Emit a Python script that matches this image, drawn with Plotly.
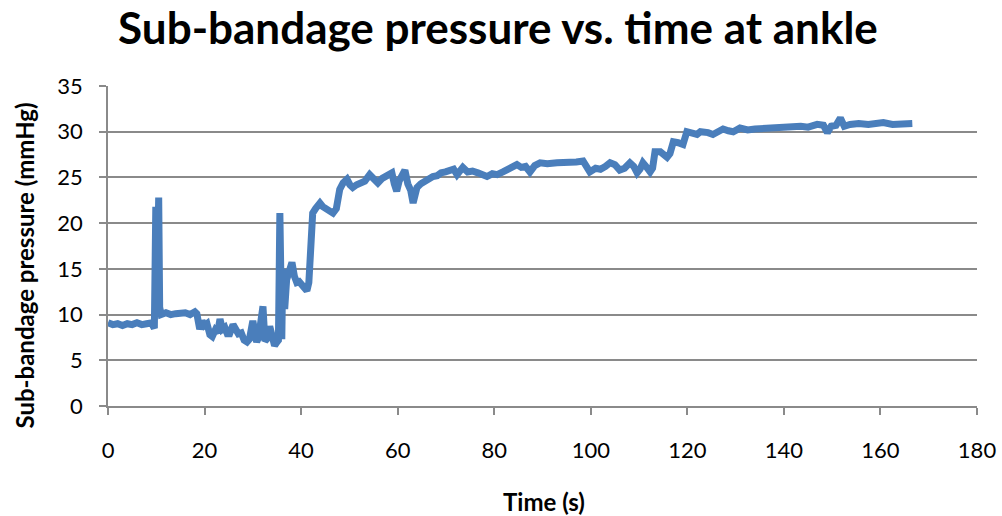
import plotly.graph_objects as go

time_s = [0, 1, 2, 3, 4, 5, 6, 7, 8, 9, 9.6, 9.9, 10.1, 10.3, 10.5, 10.7, 11, 12, 13, 14, 15, 16, 17, 18, 18.4,
          19.0, 19.5, 20, 20.5, 21.1, 21.6, 22.2, 22.7, 23.2, 23.7, 24.2, 24.7, 25.2, 25.9, 26.5, 27, 27.6, 28.2, 28.8,
          29.3, 30.0, 30.4, 30.8, 31.2, 31.6, 32.1, 32.5, 33.0, 33.5, 34.0, 34.5, 35.0, 35.3, 35.6, 35.8, 36.0, 36.2,
          36.6, 37.0, 37.5, 38.1, 38.6, 39.1, 39.6, 40.2, 40.7, 41.2, 41.6, 42.0, 42.4, 43.0, 43.9, 44.5, 45.2, 45.9,
          46.6, 47.3, 48.0, 48.7, 49.5, 50.1, 50.7, 51.5, 52.3, 53.2, 54.2, 55.0, 55.9, 56.8, 57.8, 58.8, 59.3, 59.8,
          60.3, 60.9, 61.5, 62.1, 62.7, 63.2, 64.0, 64.8, 65.6, 66.5, 67.3, 68.2, 69.0, 69.9, 70.8, 71.6, 72.3, 73.5,
          74.5, 75.5, 76.6, 77.7, 78.5, 79.6, 80.6, 81.8, 82.9, 83.8, 84.7, 85.6, 86.5, 87.4, 88.4, 89.5, 91, 93, 95,
          97, 98.4, 99.8, 101, 102, 103, 104, 105, 106, 107, 108.1, 108.9, 109.6, 110.2, 110.8, 111.6, 112.3, 112.8,
          113.3, 114.4, 115.1, 115.8, 116.4, 117.1, 118.1, 119.1, 119.9, 120.9, 122.0, 122.7, 123.3, 124.3, 125.3,
          126.4, 127.4, 128.5, 129.5, 130.9, 132.5, 134, 136, 138, 139.8, 141.5, 143.5, 145, 146.9, 148.2, 149.0,
          149.8, 150.8, 151.7, 152.5, 153.7, 155.5, 157.5, 159, 160.6, 162.5, 164.5, 166.6]
pressure_mmhg = [9.1, 8.9, 9.0, 8.8, 9.0, 8.9, 9.1, 8.9, 9.0, 9.1, 8.5, 21.8, 10.5, 21.5, 22.8, 10.8, 10.0, 10.2, 10.0,
                 10.1, 10.1, 10.2, 10.0, 10.3, 10.1,
                 8.4, 9.3, 8.8, 9.0, 7.8, 7.6, 8.3, 8.0, 9.5, 8.4, 8.6, 7.9, 7.9, 8.9, 8.3, 7.9, 8.0, 7.2, 7.0,
                 7.3, 9.3, 8.4, 7.0, 7.5, 9.0, 10.9, 7.1, 7.4, 8.7, 7.5, 6.6, 7.0, 7.2, 21.1, 13.0, 7.3, 15.0,
                 10.6, 13.8, 14.8, 15.7, 14.2, 13.5, 13.6, 13.1, 12.8, 12.6, 13.5, 17.5, 21.1, 21.6, 22.2, 21.8, 21.5, 21.4,
                 21.1, 21.6, 23.7, 24.4, 24.8, 24.2, 23.9, 24.2, 24.4, 24.6, 25.3, 24.8, 24.4, 24.9, 25.1, 25.5, 24.3, 23.5,
                 24.6, 25.2, 25.8, 24.3, 23.6, 22.2, 23.9, 24.3, 24.6, 24.8, 25.1, 25.2, 25.5, 25.6, 25.8, 25.9, 25.3, 26.1,
                 25.6, 25.7, 25.5, 25.3, 25.1, 25.4, 25.3, 25.6, 25.9, 26.0, 26.4, 26.1, 26.2, 25.6, 26.3, 26.6, 26.5, 26.6, 26.6,
                 26.7, 26.8, 25.6, 26.0, 25.9, 26.2, 26.6, 26.4, 25.8, 26.0, 26.6, 26.2, 25.5, 25.9, 26.6, 26.1, 25.6, 26.0,
                 27.8, 27.8, 27.5, 27.2, 27.6, 28.9, 28.8, 28.6, 30.0, 29.8, 29.7, 30.0, 30.0, 29.9, 29.7,
                 30.1, 30.3, 30.1, 30.0, 30.4, 30.2, 30.3, 30.4, 30.5, 30.4, 30.5, 30.6, 30.5, 30.8, 30.7, 29.9,
                 30.6, 30.7, 31.5, 30.6, 30.8, 30.9, 30.8, 30.9, 31.0, 30.8, 30.9, 30.9]

x_ticks = [0, 20, 40, 60, 80, 100, 120, 140, 160, 180]
y_ticks = [0, 5, 10, 15, 20, 25, 30, 35]

grid_color = "#8a8a8a"
font_family = "Lato, 'Open Sans', sans-serif"

fig = go.Figure()
fig.add_trace(go.Scatter(
    x=time_s, y=pressure_mmhg, mode="lines",
    line=dict(color="#4A7EBB", width=7),
    hoverinfo="x+y", showlegend=False,
))

fig.update_layout(
    width=1002, height=516,
    margin=dict(l=108, r=25, t=86, b=110),
    paper_bgcolor="white", plot_bgcolor="white",
    font=dict(family=font_family, color="black", size=22),
    title=dict(
        text="<b>Sub-bandage pressure vs. time at ankle</b>",
        x=0.497, xref="container", xanchor="center",
        y=0.945, yref="container", yanchor="middle",
        font=dict(family=font_family, size=44, color="black"),
    ),
    xaxis=dict(
        range=[0, 180], tickvals=x_ticks, ticktext=[str(v) for v in x_ticks],
        showgrid=False, zeroline=False, automargin=False,
        showline=True, linecolor=grid_color, linewidth=1.5,
        ticks="outside", ticklen=7, tickwidth=1.5, tickcolor=grid_color,
        ticklabelstandoff=17,
    ),
    yaxis=dict(
        range=[0, 35], tickvals=y_ticks, ticktext=[str(v) for v in y_ticks],
        showgrid=True, gridcolor=grid_color, gridwidth=1.5, zeroline=False, automargin=False,
        showline=True, linecolor=grid_color, linewidth=1.5,
        ticks="outside", ticklen=7, tickwidth=1.5, tickcolor=grid_color,
        ticklabelstandoff=12,
    ),
    annotations=[
        dict(text="<b>Time (s)</b>", xref="paper", yref="paper",
             x=(544 - 108) / 869, y=(406 - 501) / 320,
             xanchor="center", yanchor="middle", showarrow=False,
             font=dict(family=font_family, size=24, color="black")),
        dict(text="<b>Sub-bandage pressure (mmHg)</b>", xref="paper", yref="paper",
             x=(23.5 - 108) / 869, y=(406 - 266) / 320, textangle=-90,
             xanchor="center", yanchor="middle", showarrow=False,
             font=dict(family=font_family, size=24, color="black")),
    ],
)

fig.write_html("out.html", config={"displayModeBar": False},
               post_script="document.body.style.margin='0';")
